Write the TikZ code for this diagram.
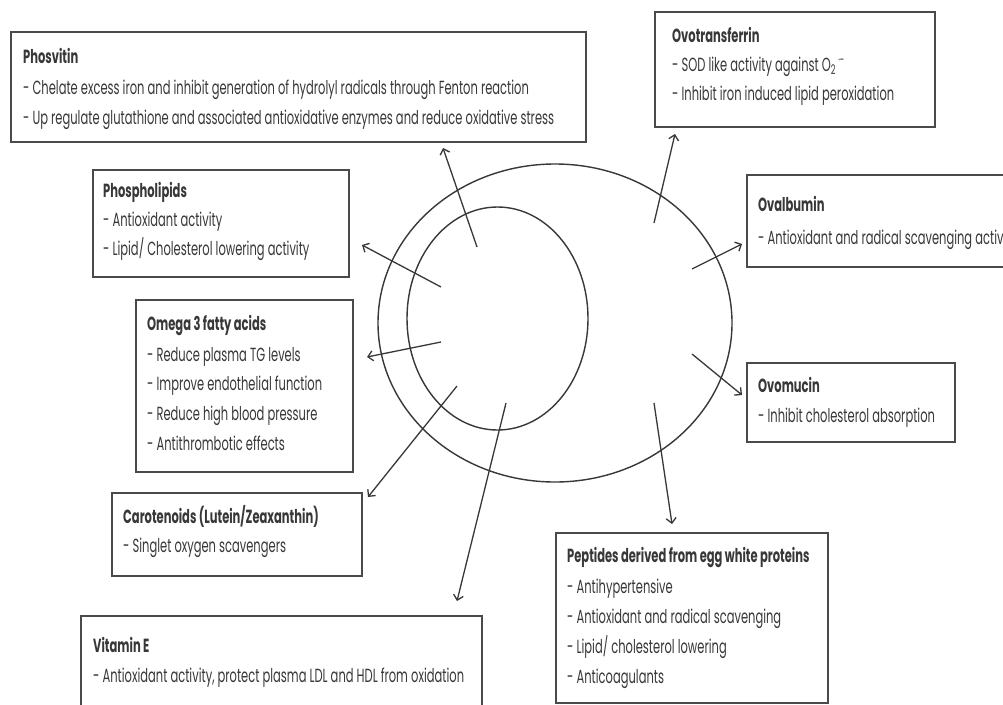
\documentclass[tikz,border=0pt]{standalone}
\usepackage{fontspec}
\setmainfont{Poppins}[FakeStretch=0.605]
\usetikzlibrary{arrows.meta,shapes.geometric}
\definecolor{ink}{HTML}{383838}
\definecolor{frame}{HTML}{4A4A4A}
\tikzset{
  box/.style={draw=frame, line width=1.6pt, anchor=north west, inner sep=0pt, outer sep=0pt},
  ttl/.style={anchor=base west, inner sep=0pt, text=ink, font=\fontsize{19}{21}\selectfont\bfseries},
  itm/.style={anchor=base west, inner sep=0pt, text=ink, font=\fontsize{19}{21}\selectfont},
  arr/.style={draw=ink, line width=1.3pt, -{Straight Barb[length=5pt,width=10pt]}},
  egg/.style={draw=ink, line width=1.4pt, ellipse, inner sep=0pt},
}
\begin{document}
\begin{tikzpicture}[x=1pt,y=-1pt]
\useasboundingbox (0,0) rectangle (1003,704);
\clip (0,0) rectangle (1003,704);
\fill[white] (0,0) rectangle (1003,704);

% egg
\node[egg, minimum width=354pt, minimum height=318pt] (white) at (555,323) {};
\node[egg, minimum width=181pt, minimum height=223pt] (yolk) at (497.5,318.5) {};

% boxes
\node[box, minimum width=575pt, minimum height=110pt] (phos) at (11,32) {};
\node[box, minimum width=280pt, minimum height=115pt] (ovot) at (655,12) {};
\node[box, minimum width=256pt, minimum height=107pt] (phli) at (93,170) {};
\node[box, minimum width=280pt, minimum height=92pt] (oval) at (747,175) {};
\node[box, minimum width=217pt, minimum height=172pt] (omeg) at (136,300) {};
\node[box, minimum width=208pt, minimum height=79pt] (ovom) at (747,363) {};
\node[box, minimum width=250pt, minimum height=83pt] (caro) at (112,493) {};
\node[box, minimum width=401pt, minimum height=110pt] (vite) at (81,616) {};
\node[box, minimum width=272pt, minimum height=170pt] (pept) at (556,533) {};

% texts
\node[ttl] (phos-0) at (23,63) {Phosvitin};
\node[itm] (phos-1) at (23,94) {- Chelate excess iron and inhibit generation of hydrolyl radicals through Fenton reaction};
\node[itm] (phos-2) at (23,124) {- Up regulate glutathione and associated antioxidative enzymes and reduce oxidative stress};

\node[ttl] (ovot-0) at (672,42) {Ovotransferrin};
\node[itm] (ovot-1) at (672,71) {- SOD like activity against O\textsubscript{2}\textsuperscript{\,·-}};
\node[itm] (ovot-2) at (672,100) {- Inhibit iron induced lipid peroxidation};

\node[ttl] (phli-0) at (103,197) {Phospholipids};
\node[itm] (phli-1) at (103,226) {- Antioxidant activity};
\node[itm] (phli-2) at (103,255) {- Lipid/ Cholesterol lowering activity};

\node[ttl] (oval-0) at (758,211) {Ovalbumin};
\node[itm] (oval-1) at (758,244) {- Antioxidant and radical scavenging activity};

\node[ttl] (omeg-0) at (147,330) {Omega 3 fatty acids};
\node[itm] (omeg-1) at (147,361) {- Reduce plasma TG levels};
\node[itm] (omeg-2) at (147,390) {- Improve endothelial function};
\node[itm] (omeg-3) at (147,420) {- Reduce high blood pressure};
\node[itm] (omeg-4) at (147,450) {- Antithrombotic effects};

\node[ttl] (ovom-0) at (758,392) {Ovomucin};
\node[itm] (ovom-1) at (758,422) {- Inhibit cholesterol absorption};

\node[ttl] (caro-0) at (123,523) {Carotenoids (Lutein/Zeaxanthin)};
\node[itm] (caro-1) at (123,552) {- Singlet oxygen scavengers};

\node[ttl] (vite-0) at (93,652) {Vitamin E};
\node[itm] (vite-1) at (93,682) {- Antioxidant activity, protect plasma LDL and HDL from oxidation};

\node[ttl] (pept-0) at (567,562) {Peptides derived from egg white proteins};
\node[itm] (pept-1) at (567,593) {- Antihypertensive};
\node[itm] (pept-2) at (567,623) {- Antioxidant and radical scavenging};
\node[itm] (pept-3) at (567,653) {- Lipid/ cholesterol lowering};
\node[itm] (pept-4) at (567,683) {- Anticoagulants};

% arrow ends
\coordinate (a-phos-s) at (477,247); \coordinate (a-phos-e) at (443,148);
\coordinate (a-phli-s) at (441,287); \coordinate (a-phli-e) at (362,245);
\coordinate (a-omeg-s) at (441,342); \coordinate (a-omeg-e) at (367,357);
\coordinate (a-caro-s) at (457,386); \coordinate (a-caro-e) at (368,497);
\coordinate (a-vite-s) at (506,403); \coordinate (a-vite-e) at (457,601);
\coordinate (a-ovot-s) at (654,223); \coordinate (a-ovot-e) at (675,134);
\coordinate (a-oval-s) at (692,269); \coordinate (a-oval-e) at (742,244);
\coordinate (a-ovom-s) at (692,354); \coordinate (a-ovom-e) at (742,395);
\coordinate (a-pept-s) at (654,403); \coordinate (a-pept-e) at (672,524);

\foreach \n in {phos,phli,omeg,caro,vite,ovot,oval,ovom,pept}
  \draw[arr] (a-\n-s) -- (a-\n-e);
\end{tikzpicture}
\end{document}
